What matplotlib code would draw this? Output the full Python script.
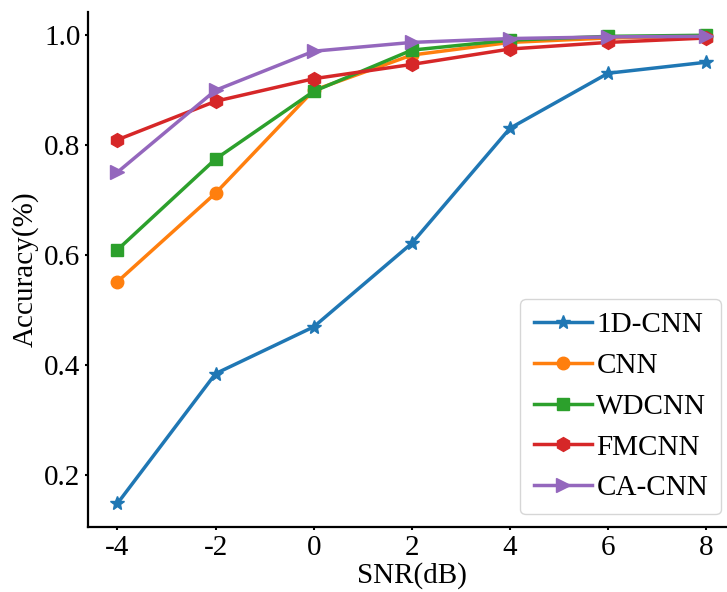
import matplotlib.pyplot as plt

plt.rcParams['font.family'] = ['Liberation Serif', 'DejaVu Serif']

# Data
snr = [-4, -2, 0, 2, 4, 6, 8]
cnn1d = [0.149, 0.385, 0.470, 0.622, 0.831, 0.931, 0.951]
cnn = [0.552, 0.713, 0.900, 0.964, 0.987, 0.995, 0.998]
wdcnn = [0.610, 0.775, 0.898, 0.973, 0.991, 0.998, 1.000]
fmcnn = [0.810, 0.880, 0.921, 0.947, 0.975, 0.987, 0.995]
cacnn = [0.751, 0.900, 0.971, 0.987, 0.994, 0.997, 0.998]

fig = plt.figure(figsize=(7.27, 5.92), dpi=100)
ax = fig.add_axes([0.121, 0.110, 0.891, 0.870])

ax.plot(snr, cnn1d, marker='*', lw=2.5, ms=10, label='1D-CNN')
ax.plot(snr, cnn, marker='o', lw=2.5, ms=9, label='CNN')
ax.plot(snr, wdcnn, marker='s', lw=2.5, ms=9, label='WDCNN')
ax.plot(snr, fmcnn, marker='h', lw=2.5, ms=10, label='FMCNN')
ax.plot(snr, cacnn, marker='>', lw=2.5, ms=10, label='CA-CNN')

ax.set_xticks(snr)
ax.set_xticklabels([str(s) for s in snr])
ax.set_yticks([0.2, 0.4, 0.6, 0.8, 1.0])
ax.set_xlabel('SNR(dB)', fontsize=21, labelpad=1)
ax.set_ylabel('Accuracy(%)', fontsize=21, labelpad=4)
ax.tick_params(labelsize=21, width=1.5, length=2.5, pad=3)
for side in ['top', 'right']:
    ax.spines[side].set_visible(False)
for side in ['left', 'bottom']:
    ax.spines[side].set_linewidth(1.6)

ax.legend(loc='lower right', fontsize=21, bbox_to_anchor=(1.0, -0.004),
          handlelength=2.0, handletextpad=0.15, borderpad=0.45, labelspacing=0.49)

fig.savefig('out.png', dpi=100)
